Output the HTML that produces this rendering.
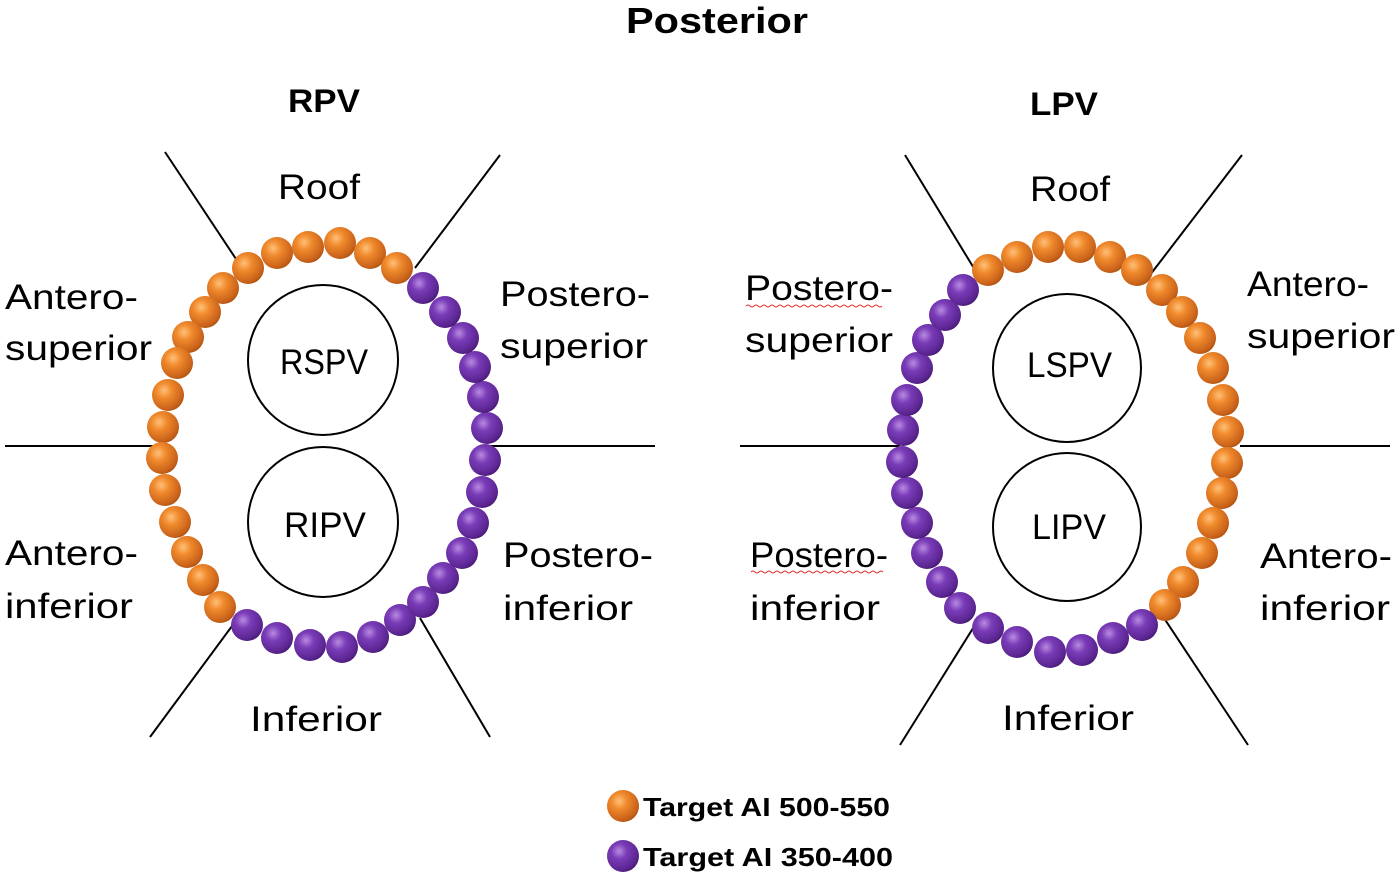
<!DOCTYPE html>
<html><head><meta charset="utf-8"><style>html,body{margin:0;padding:0;background:#fff;}svg{display:block;}</style></head>
<body>
<svg width="1400" height="878" viewBox="0 0 1400 878" xmlns="http://www.w3.org/2000/svg" font-family="Liberation Sans, sans-serif">
<defs>
<radialGradient id="o" cx="0.38" cy="0.35" r="0.7">
<stop offset="0" stop-color="#ffc07a"/><stop offset="0.35" stop-color="#f08a2c"/><stop offset="0.85" stop-color="#c9621a"/><stop offset="1" stop-color="#a9510f"/>
</radialGradient>
<radialGradient id="p" cx="0.38" cy="0.35" r="0.7">
<stop offset="0" stop-color="#b88be0"/><stop offset="0.35" stop-color="#7a3cb8"/><stop offset="0.85" stop-color="#5a2590"/><stop offset="1" stop-color="#45176f"/>
</radialGradient>
</defs>
<g stroke="#000" stroke-width="2">
<line x1="165" y1="152" x2="240" y2="265"/><line x1="500" y1="155" x2="415" y2="268"/>
<line x1="5" y1="446" x2="155" y2="446"/><line x1="490" y1="446" x2="655" y2="446"/>
<line x1="150" y1="737" x2="235" y2="622"/><line x1="490" y1="737" x2="420" y2="618"/>
<line x1="905" y1="155" x2="975" y2="270"/><line x1="1242" y1="155" x2="1150" y2="275"/>
<line x1="740" y1="446" x2="900" y2="446"/><line x1="1240" y1="446" x2="1390" y2="446"/>
<line x1="900" y1="745" x2="975" y2="625"/><line x1="1248" y1="745" x2="1160" y2="612"/>
</g>
<g fill="none" stroke="#000" stroke-width="2">
<circle cx="323" cy="360" r="75"/><circle cx="323" cy="522" r="75"/>
<circle cx="1067" cy="368" r="74"/><circle cx="1067" cy="527" r="74"/>
</g>
<g fill="url(#o)">
<circle cx="248" cy="268" r="16"/><circle cx="277" cy="253" r="16"/><circle cx="308" cy="247" r="16"/><circle cx="340" cy="243" r="16"/><circle cx="370" cy="253" r="16"/><circle cx="397" cy="268" r="16"/>
<circle cx="223" cy="288" r="16"/><circle cx="205" cy="312" r="16"/><circle cx="188" cy="337" r="16"/><circle cx="177" cy="363" r="16"/><circle cx="168" cy="395" r="16"/><circle cx="163" cy="427" r="16"/><circle cx="162" cy="458" r="16"/><circle cx="165" cy="490" r="16"/><circle cx="175" cy="522" r="16"/><circle cx="187" cy="552" r="16"/><circle cx="203" cy="580" r="16"/><circle cx="220" cy="607" r="16"/>
<circle cx="988" cy="270" r="16"/><circle cx="1017" cy="257" r="16"/><circle cx="1048" cy="247" r="16"/><circle cx="1080" cy="247" r="16"/><circle cx="1110" cy="257" r="16"/><circle cx="1137" cy="270" r="16"/>
<circle cx="1162" cy="290" r="16"/><circle cx="1182" cy="312" r="16"/><circle cx="1200" cy="338" r="16"/><circle cx="1213" cy="368" r="16"/><circle cx="1223" cy="400" r="16"/><circle cx="1228" cy="432" r="16"/><circle cx="1227" cy="463" r="16"/><circle cx="1222" cy="493" r="16"/><circle cx="1213" cy="523" r="16"/><circle cx="1202" cy="553" r="16"/><circle cx="1183" cy="582" r="16"/><circle cx="1165" cy="605" r="16"/>
<circle cx="623" cy="806" r="16"/>
</g>
<g fill="url(#p)">
<circle cx="247" cy="625" r="16"/><circle cx="277" cy="638" r="16"/><circle cx="310" cy="645" r="16"/><circle cx="342" cy="647" r="16"/><circle cx="373" cy="637" r="16"/><circle cx="400" cy="620" r="16"/>
<circle cx="423" cy="602" r="16"/><circle cx="443" cy="578" r="16"/><circle cx="462" cy="553" r="16"/><circle cx="473" cy="523" r="16"/><circle cx="482" cy="492" r="16"/><circle cx="485" cy="460" r="16"/><circle cx="487" cy="428" r="16"/><circle cx="483" cy="397" r="16"/><circle cx="475" cy="367" r="16"/><circle cx="463" cy="338" r="16"/><circle cx="445" cy="312" r="16"/><circle cx="423" cy="288" r="16"/>
<circle cx="1142" cy="625" r="16"/><circle cx="1113" cy="638" r="16"/><circle cx="1082" cy="650" r="16"/><circle cx="1050" cy="652" r="16"/><circle cx="1017" cy="642" r="16"/><circle cx="988" cy="628" r="16"/>
<circle cx="960" cy="608" r="16"/><circle cx="942" cy="582" r="16"/><circle cx="927" cy="553" r="16"/><circle cx="917" cy="523" r="16"/><circle cx="907" cy="493" r="16"/><circle cx="902" cy="462" r="16"/><circle cx="903" cy="430" r="16"/><circle cx="907" cy="400" r="16"/><circle cx="917" cy="368" r="16"/><circle cx="928" cy="340" r="16"/><circle cx="945" cy="315" r="16"/><circle cx="963" cy="290" r="16"/>
<circle cx="623" cy="856" r="16"/>
</g>
<g font-weight="bold" fill="#000">
<text x="626" y="33" font-size="36" textLength="182" lengthAdjust="spacingAndGlyphs">Posterior</text>
<text x="288" y="112" font-size="32" textLength="72" lengthAdjust="spacingAndGlyphs">RPV</text>
<text x="1030" y="115" font-size="32" textLength="68" lengthAdjust="spacingAndGlyphs">LPV</text>
<text x="643" y="816" font-size="26" textLength="247" lengthAdjust="spacingAndGlyphs">Target AI 500-550</text>
<text x="643" y="866" font-size="26" textLength="250" lengthAdjust="spacingAndGlyphs">Target AI 350-400</text>
</g>
<g font-size="35" fill="#000">
<text x="278" y="199" textLength="82" lengthAdjust="spacingAndGlyphs">Roof</text>
<text x="5" y="309" textLength="133" lengthAdjust="spacingAndGlyphs">Antero-</text>
<text x="5" y="360" textLength="147" lengthAdjust="spacingAndGlyphs">superior</text>
<text x="500" y="306" textLength="150" lengthAdjust="spacingAndGlyphs">Postero-</text>
<text x="500" y="358" textLength="148" lengthAdjust="spacingAndGlyphs">superior</text>
<text x="5" y="565" textLength="133" lengthAdjust="spacingAndGlyphs">Antero-</text>
<text x="5" y="618" textLength="128" lengthAdjust="spacingAndGlyphs">inferior</text>
<text x="503" y="567" textLength="150" lengthAdjust="spacingAndGlyphs">Postero-</text>
<text x="503" y="620" textLength="130" lengthAdjust="spacingAndGlyphs">inferior</text>
<text x="250" y="731" textLength="132" lengthAdjust="spacingAndGlyphs">Inferior</text>
<text x="280" y="374" textLength="88" lengthAdjust="spacingAndGlyphs">RSPV</text>
<text x="284" y="537" textLength="82" lengthAdjust="spacingAndGlyphs">RIPV</text>
<text x="1030" y="201" textLength="80" lengthAdjust="spacingAndGlyphs">Roof</text>
<text x="745" y="300" textLength="148" lengthAdjust="spacingAndGlyphs">Postero-</text>
<text x="745" y="352" textLength="148" lengthAdjust="spacingAndGlyphs">superior</text>
<text x="1247" y="296" textLength="122" lengthAdjust="spacingAndGlyphs">Antero-</text>
<text x="1247" y="348" textLength="148" lengthAdjust="spacingAndGlyphs">superior</text>
<text x="750" y="567" textLength="138" lengthAdjust="spacingAndGlyphs">Postero-</text>
<text x="750" y="620" textLength="130" lengthAdjust="spacingAndGlyphs">inferior</text>
<text x="1260" y="568" textLength="132" lengthAdjust="spacingAndGlyphs">Antero-</text>
<text x="1260" y="620" textLength="130" lengthAdjust="spacingAndGlyphs">inferior</text>
<text x="1002" y="730" textLength="132" lengthAdjust="spacingAndGlyphs">Inferior</text>
<text x="1027" y="377" textLength="85" lengthAdjust="spacingAndGlyphs">LSPV</text>
<text x="1032" y="539" textLength="74" lengthAdjust="spacingAndGlyphs">LIPV</text>
</g>
<g fill="none" stroke="#e03030" stroke-width="1">
<path d="M746 306 q2 -2 4 0 t4 0 t4 0 t4 0 t4 0 t4 0 t4 0 t4 0 t4 0 t4 0 t4 0 t4 0 t4 0 t4 0 t4 0 t4 0 t4 0 t4 0 t4 0 t4 0 t4 0 t4 0 t4 0 t4 0 t4 0 t4 0 t4 0 t4 0 t4 0 t4 0 t4 0 t4 0 t4 0 t4 0"/>
<path d="M751 572 q2 -2 4 0 t4 0 t4 0 t4 0 t4 0 t4 0 t4 0 t4 0 t4 0 t4 0 t4 0 t4 0 t4 0 t4 0 t4 0 t4 0 t4 0 t4 0 t4 0 t4 0 t4 0 t4 0 t4 0 t4 0 t4 0 t4 0 t4 0 t4 0 t4 0 t4 0 t4 0 t4 0 t4 0"/>
</g>
</svg>
</body></html>
